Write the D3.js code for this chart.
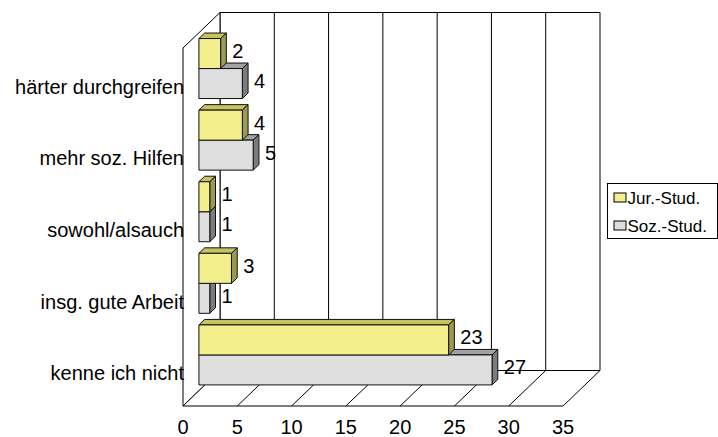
<!DOCTYPE html>
<html>
<head>
<meta charset="utf-8">
<script src="https://cdn.jsdelivr.net/npm/d3@7"></script>
<style>
  body { margin: 0; background: #fff; }
  svg text { font-family: "Liberation Sans", Arial, sans-serif; fill: #000; }
</style>
</head>
<body>
<svg id="chart"></svg>
<script>
// chart data
var categories = ['härter durchgreifen', 'mehr soz. Hilfen', 'sowohl/alsauch', 'insg. gute Arbeit', 'kenne ich nicht'];
var seriesNames = ['Jur.-Stud.', 'Soz.-Stud.'];
var jurValues = [2, 4, 1, 3, 23];
var sozValues = [4, 5, 1, 1, 27];
var tickValues = [0, 5, 10, 15, 20, 25, 30, 35];

(function () {
    var width = 718, height = 437;

    // 3d box: front plane + depth offset to the back wall
    var depthX = 37, depthY = -35.5;
    var barFront = 0.43, barBack = 0.585;

    var colors = {
        jur: { front: '#f2ef8c', top: '#c4c35e', side: '#9c9a4c' },
        soz: { front: '#dedede', top: '#a2a2a2', side: '#7c7c7c' }
    };

    var svg = d3.select('#chart')
        .attr('width', width)
        .attr('height', height);

    var x = d3.scaleLinear().domain([0, 35]).range([183, 563]);
    var y = d3.scaleBand().domain(categories).range([48, 406]);

    function pt(v, yy, f) {
        return [x(v) + f * depthX, yy + f * depthY];
    }
    function poly(points) {
        return 'M' + points.map(function (p) { return p[0] + ',' + p[1]; }).join('L') + 'Z';
    }

    var y0 = y.range()[0], y1 = y.range()[1];

    // walls
    var walls = svg.append('g').attr('fill', 'none').attr('stroke', '#000').attr('stroke-width', 1);
    walls.append('path').attr('fill', '#fff')
        .attr('d', poly([pt(0, y0, 1), pt(35, y0, 1), pt(35, y1, 1), pt(0, y1, 1)]));
    walls.append('path').attr('fill', '#fff')
        .attr('d', poly([pt(0, y0, 0), pt(0, y0, 1), pt(0, y1, 1), pt(0, y1, 0)]));
    walls.append('path').attr('fill', '#fff')
        .attr('d', poly([pt(0, y1, 0), pt(35, y1, 0), pt(35, y1, 1), pt(0, y1, 1)]));

    // gridlines on back wall and floor
    walls.selectAll('.grid-back')
        .data(tickValues.slice(1, -1))
        .enter().append('path')
            .attr('class', 'grid-back')
            .attr('d', function (d) { return 'M' + pt(d, y0, 1) + 'L' + pt(d, y1, 1); });
    walls.selectAll('.grid-floor')
        .data(tickValues.slice(1, -1))
        .enter().append('path')
            .attr('class', 'grid-floor')
            .attr('d', function (d) { return 'M' + pt(d, y1, 0) + 'L' + pt(d, y1, 1); });

    // bars: per category the lower (Soz) bar first, so the upper bar covers its top face
    var bars = [];
    categories.forEach(function (c, i) {
        var mid = y(c) + y.bandwidth() / 2;
        bars.push({ cat: c, value: sozValues[i], key: 'soz', top: mid, bottom: mid + 30 });
        bars.push({ cat: c, value: jurValues[i], key: 'jur', top: mid - 30, bottom: mid });
    });

    var barG = svg.selectAll('.bar')
        .data(bars)
        .enter().append('g')
            .attr('class', 'bar')
            .attr('stroke', '#111')
            .attr('stroke-width', 1)
            .attr('stroke-linejoin', 'round');

    barG.append('path')
        .attr('fill', function (d) { return colors[d.key].top; })
        .attr('d', function (d) {
            return poly([pt(0, d.top, barFront), pt(d.value, d.top, barFront), pt(d.value, d.top, barBack), pt(0, d.top, barBack)]);
        });
    barG.append('path')
        .attr('fill', function (d) { return colors[d.key].side; })
        .attr('d', function (d) {
            return poly([pt(d.value, d.top, barFront), pt(d.value, d.top, barBack), pt(d.value, d.bottom, barBack), pt(d.value, d.bottom, barFront)]);
        });
    barG.append('path')
        .attr('fill', function (d) { return colors[d.key].front; })
        .attr('d', function (d) {
            return poly([pt(0, d.top, barFront), pt(d.value, d.top, barFront), pt(d.value, d.bottom, barFront), pt(0, d.bottom, barFront)]);
        });

    // value labels
    svg.selectAll('.value')
        .data(bars)
        .enter().append('text')
            .attr('class', 'value')
            .attr('font-size', 20)
            .attr('x', function (d) { return pt(d.value, 0, barBack)[0] + 6; })
            .attr('y', function (d) { return pt(0, (d.top + d.bottom) / 2, (barFront + barBack) / 2)[1]; })
            .attr('dy', '0.36em')
            .text(function (d) { return d.value; });

    // category labels
    svg.selectAll('.cat')
        .data(categories)
        .enter().append('text')
            .attr('class', 'cat')
            .attr('font-size', 20)
            .attr('text-anchor', 'end')
            .attr('x', x(0) + 1)
            .attr('y', function (d) { return y(d) + y.bandwidth() / 2 + 10; })
            .text(function (d) { return d; });

    // x axis tick labels under the front floor edge
    svg.selectAll('.tick')
        .data(tickValues)
        .enter().append('text')
            .attr('class', 'tick')
            .attr('font-size', 20)
            .attr('text-anchor', 'middle')
            .attr('x', function (d) { return x(d); })
            .attr('y', 434)
            .text(function (d) { return d; });

    // legend
    var legend = svg.append('g').attr('transform', 'translate(607.5,183.5)');
    legend.append('rect')
        .attr('width', 110).attr('height', 55)
        .attr('fill', '#fff').attr('stroke', '#000');
    var item = legend.selectAll('.item')
        .data(seriesNames)
        .enter().append('g')
            .attr('class', 'item')
            .attr('transform', function (d, i) { return 'translate(6,' + (14 + i * 28) + ')'; });
    item.append('rect')
        .attr('x', 0.5).attr('y', -4.5).attr('width', 12).attr('height', 9)
        .attr('stroke', '#000')
        .attr('fill', function (d, i) { return i === 0 ? colors.jur.front : colors.soz.front; });
    item.append('text')
        .attr('x', 14)
        .attr('dy', '0.36em')
        .attr('font-size', 17)
        .text(function (d) { return d; });
}());
</script>
</body>
</html>
